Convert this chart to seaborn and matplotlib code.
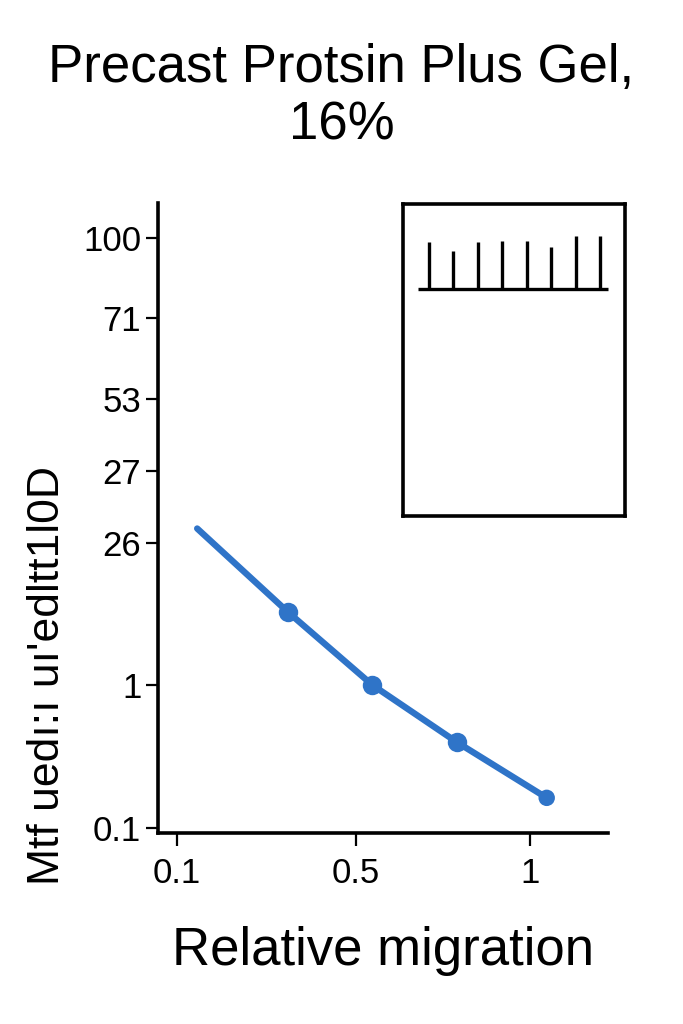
import numpy as np
import pandas as pd
import seaborn as sns
import matplotlib.pyplot as plt

# 1. Data
migration = [0.145, 0.347, 0.547, 0.79, 1.048]
mol_weight = [26.2, 13.9, 1.0, 0.64, 0.29]

x_ticks = [0.1, 0.5, 1]
x_labels = ['0.1', '0.5', '1']
y_ticks = [0.1, 1, 26, 27, 53, 71, 100]
y_labels = ['0.1', '1', '26', '27', '53', '71', '100']

# gel inset: lane number and band length
lanes = [1, 2, 3, 4, 5, 6, 7, 8]
band_length = [47, 38, 47, 48, 48, 42, 53, 53]

title = "Precast Protsin Plus Gel,\n16%"
x_title = "Relative migration"
y_title = "Mtf uedı:ı uı'edltt1l0D"

# 2. Axis scales are piecewise linear between the tick values
x_knots = [0.0, 1.014, 2.0]
y_knots = [0.0, 1.007, 2.007, 2.514, 3.02, 3.59, 4.155]


def piecewise(v, xs, ys):
    v = np.asarray(v, dtype=float)
    out = np.interp(v, xs, ys)
    lo_slope = (ys[1] - ys[0]) / (xs[1] - xs[0])
    hi_slope = (ys[-1] - ys[-2]) / (xs[-1] - xs[-2])
    out = np.where(v < xs[0], ys[0] + (v - xs[0]) * lo_slope, out)
    out = np.where(v > xs[-1], ys[-1] + (v - xs[-1]) * hi_slope, out)
    return out


x_fwd = lambda v: piecewise(v, x_ticks, x_knots)
x_inv = lambda v: piecewise(v, x_knots, x_ticks)
y_fwd = lambda v: piecewise(v, y_ticks, y_knots)
y_inv = lambda v: piecewise(v, y_knots, y_ticks)

# 3. Style
sns.set_style("ticks")
plt.rcParams["font.family"] = ["Liberation Sans", "DejaVu Sans"]
plt.rcParams.update({"text.color": "black", "axes.labelcolor": "black",
                     "xtick.color": "black", "ytick.color": "black"})
blue = "#2f74c8"

df = pd.DataFrame({"migration": migration, "mw": mol_weight})

fig = plt.figure(figsize=(6.83, 10.24), dpi=100)
ax = fig.add_axes([0.2313, 0.1865, 0.6589, 0.6153])
ax.set_xscale("function", functions=(x_fwd, x_inv))
ax.set_yscale("function", functions=(y_fwd, y_inv))

sns.lineplot(data=df, x="migration", y="mw", ax=ax, color=blue, lw=4.6,
             marker="o", markersize=14, markevery=[1, 2, 3],
             markeredgewidth=0, solid_capstyle="round")
sns.scatterplot(data=df.iloc[[-1]], x="migration", y="mw", ax=ax,
                color=blue, s=140, edgecolor="none")

ax.set_xlim(float(x_inv(-0.108)), float(x_inv(2.442)))
ax.set_ylim(float(y_inv(-0.035)), float(y_inv(4.40)))
ax.set_xticks(x_ticks, labels=x_labels)
ax.set_yticks(y_ticks, labels=y_labels)
ax.minorticks_off()
ax.tick_params(axis="both", labelsize=25, width=1.6, length=9, color="black",
               labelcolor="black")
ax.tick_params(axis="x", pad=8)
ax.tick_params(axis="y", pad=3)
for side in ["left", "bottom"]:
    ax.spines[side].set_linewidth(2.6)
    ax.spines[side].set_color("black")
sns.despine(ax=ax)

ax.set_xlabel(x_title, fontsize=38, labelpad=26, color="black")
ax.set_ylabel(y_title, fontsize=32, va="center", color="black")
ax.yaxis.set_label_coords(-0.245, 0.25)

fig.suptitle(title, fontsize=38, y=0.958, va="top", linespacing=1.18,
             color="black")

# 4. Gel inset
ins = fig.add_axes([0.590, 0.4961, 0.3250, 0.3047])
ins.vlines(lanes, 0, band_length, color="black", lw=2.4)
ins.hlines(0, 0.55, 8.33, color="black", lw=2.4)
ins.set_xlim(-0.064, 9.02)
ins.set_ylim(-227, 85)
ins.set_xticks([])
ins.set_yticks([])
for s in ins.spines.values():
    s.set_linewidth(2.6)
    s.set_color("black")

fig.savefig("out.png", dpi=100)
